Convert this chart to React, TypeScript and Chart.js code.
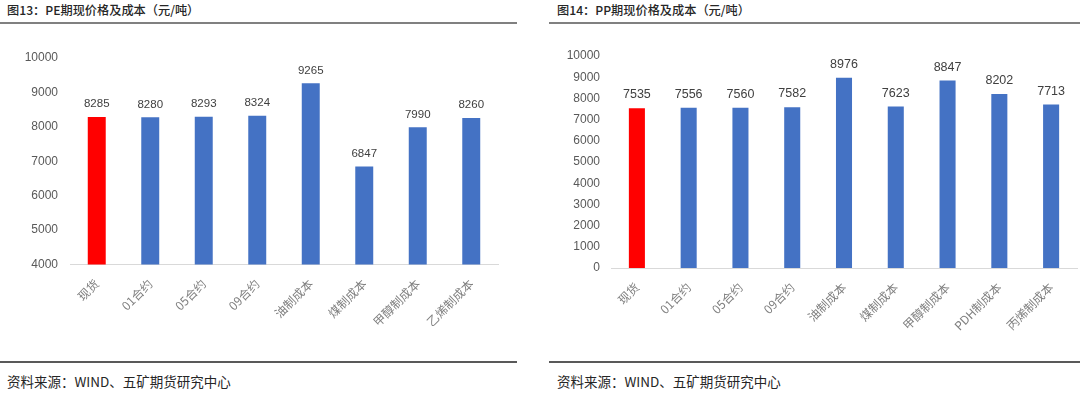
import React, { useEffect, useRef } from "react";
import { Chart, registerables } from "chart.js";

Chart.register(...registerables);

// ---- Data ----
const peCategories = ["现货", "01合约", "05合约", "09合约", "油制成本", "煤制成本", "甲醇制成本", "乙烯制成本"];
const peValues = [8285, 8280, 8293, 8324, 9265, 6847, 7990, 8260];
const peColors = ["#FF0000", "#4472C4", "#4472C4", "#4472C4", "#4472C4", "#4472C4", "#4472C4", "#4472C4"];
const peYMin = 4000;
const peYMax = 10000;
const peYStep = 1000;

const ppCategories = ["现货", "01合约", "05合约", "09合约", "油制成本", "煤制成本", "甲醇制成本", "PDH制成本", "丙烯制成本"];
const ppValues = [7535, 7556, 7560, 7582, 8976, 7623, 8847, 8202, 7713];
const ppColors = ["#FF0000", "#4472C4", "#4472C4", "#4472C4", "#4472C4", "#4472C4", "#4472C4", "#4472C4", "#4472C4"];
const ppYMin = 0;
const ppYMax = 10000;
const ppYStep = 1000;

const peTitle = "图13：PE期现价格及成本（元/吨）";
const ppTitle = "图14：PP期现价格及成本（元/吨）";
const sourceText = "资料来源：WIND、五矿期货研究中心";

type PanelProps = {
  categories: string[];
  values: number[];
  colors: string[];
  yMin: number;
  yMax: number;
  yStep: number;
  width: number;
  height: number;
  yAxisWidth: number;
  xAxisHeight: number;
  padTop: number;
  padRight: number;
  barPct: number;
  tickFont: string;
  tickSize: number;
  tickPad: number;
  valueFont: string;
  valueSize: number;
};

const valueLabelPlugin = {
  id: "valueLabels",
  afterDatasetsDraw(chart: any, _args: any, opts: any) {
    const ctx = chart.ctx;
    const meta = chart.getDatasetMeta(0);
    const data = chart.data.datasets[0].data as number[];
    ctx.save();
    ctx.font = `${opts.size}px ${opts.family}`;
    ctx.fillStyle = "#404040";
    ctx.textAlign = "center";
    ctx.textBaseline = "bottom";
    meta.data.forEach((bar: any, i: number) => {
      ctx.fillText(String(data[i]), bar.x, bar.y - 7);
    });
    ctx.restore();
  },
};

function BarPanel(p: PanelProps) {
  const ref = useRef<HTMLCanvasElement | null>(null);
  useEffect(() => {
    if (!ref.current) return;
    const chart = new Chart(ref.current, {
      type: "bar",
      data: {
        labels: p.categories,
        datasets: [
          {
            data: p.values,
            backgroundColor: p.colors,
            borderWidth: 0,
            categoryPercentage: 1,
            barPercentage: p.barPct,
          },
        ],
      },
      options: {
        responsive: false,
        animation: false,
        devicePixelRatio: 1,
        layout: { padding: { top: p.padTop, right: p.padRight, left: 0, bottom: 0 } },
        plugins: {
          legend: { display: false },
          tooltip: { enabled: false },
          valueLabels: { family: p.valueFont, size: p.valueSize },
        } as any,
        scales: {
          x: {
            grid: { display: false },
            border: { display: true, color: "#d9d9d9", width: 1 },
            ticks: {
              autoSkip: false,
              maxRotation: 45,
              minRotation: 45,
              color: "#7f7f7f",
              padding: 4,
              font: { family: "'Noto Sans CJK SC', sans-serif", size: 12 },
            },
            afterFit: (s: any) => {
              s.height = p.xAxisHeight;
            },
          },
          y: {
            min: p.yMin,
            max: p.yMax,
            grid: { display: false },
            border: { display: false },
            ticks: {
              stepSize: p.yStep,
              color: "#595959",
              padding: p.tickPad,
              font: { family: p.tickFont, size: p.tickSize },
              callback: (v: any) => String(v),
            },
            afterFit: (s: any) => {
              s.width = p.yAxisWidth;
            },
          },
        },
      },
      plugins: [valueLabelPlugin as any],
    });
    return () => chart.destroy();
  }, []);
  return <canvas ref={ref} width={p.width} height={p.height} style={{ display: "block", width: p.width, height: p.height }} />;
}

const textFont = "'Noto Sans CJK SC', 'Noto Sans', sans-serif";
const titleStyle: React.CSSProperties = { position: "absolute", top: 3, fontSize: 12.2, fontWeight: 500, lineHeight: "15px", color: "#262626", whiteSpace: "nowrap" };
const footStyle: React.CSSProperties = { position: "absolute", top: 373, fontSize: 13.5, lineHeight: "16px", color: "#262626", whiteSpace: "nowrap" };

export default function App() {
  return (
    <div style={{ position: "fixed", left: 0, top: 0, width: 1080, height: 394, background: "#fff", overflow: "hidden", fontFamily: textFont }}>
      {/* Left panel */}
      <div style={{ ...titleStyle, left: 7 }}>{peTitle}</div>
      <div style={{ position: "absolute", left: 0, top: 22, width: 517, height: 2, background: "#808080" }} />
      <div style={{ position: "absolute", left: 0, top: 30 }}>
        <BarPanel
          categories={peCategories}
          values={peValues}
          colors={peColors}
          yMin={peYMin}
          yMax={peYMax}
          yStep={peYStep}
          width={520}
          height={320}
          yAxisWidth={70}
          xAxisHeight={85.5}
          padTop={28}
          padRight={22}
          barPct={0.336}
          tickFont="'Liberation Sans', sans-serif"
          tickSize={12}
          tickPad={4}
          valueFont="'Liberation Sans', sans-serif"
          valueSize={11.5}
        />
      </div>
      <div style={{ position: "absolute", left: 0, top: 361, width: 517, height: 2, background: "#595959" }} />
      <div style={{ ...footStyle, left: 7 }}>{sourceText}</div>

      {/* Right panel */}
      <div style={{ ...titleStyle, left: 557 }}>{ppTitle}</div>
      <div style={{ position: "absolute", left: 549, top: 22, width: 531, height: 2, background: "#808080" }} />
      <div style={{ position: "absolute", left: 540, top: 30 }}>
        <BarPanel
          categories={ppCategories}
          values={ppValues}
          colors={ppColors}
          yMin={ppYMin}
          yMax={ppYMax}
          yStep={ppYStep}
          width={540}
          height={320}
          yAxisWidth={71}
          xAxisHeight={82}
          padTop={26}
          padRight={3}
          barPct={0.31}
          tickFont="'Liberation Sans', sans-serif"
          tickSize={12}
          tickPad={3}
          valueFont="'Liberation Sans', sans-serif"
          valueSize={12.5}
        />
      </div>
      <div style={{ position: "absolute", left: 549, top: 361, width: 531, height: 2, background: "#595959" }} />
      <div style={{ ...footStyle, left: 557 }}>{sourceText}</div>
    </div>
  );
}
